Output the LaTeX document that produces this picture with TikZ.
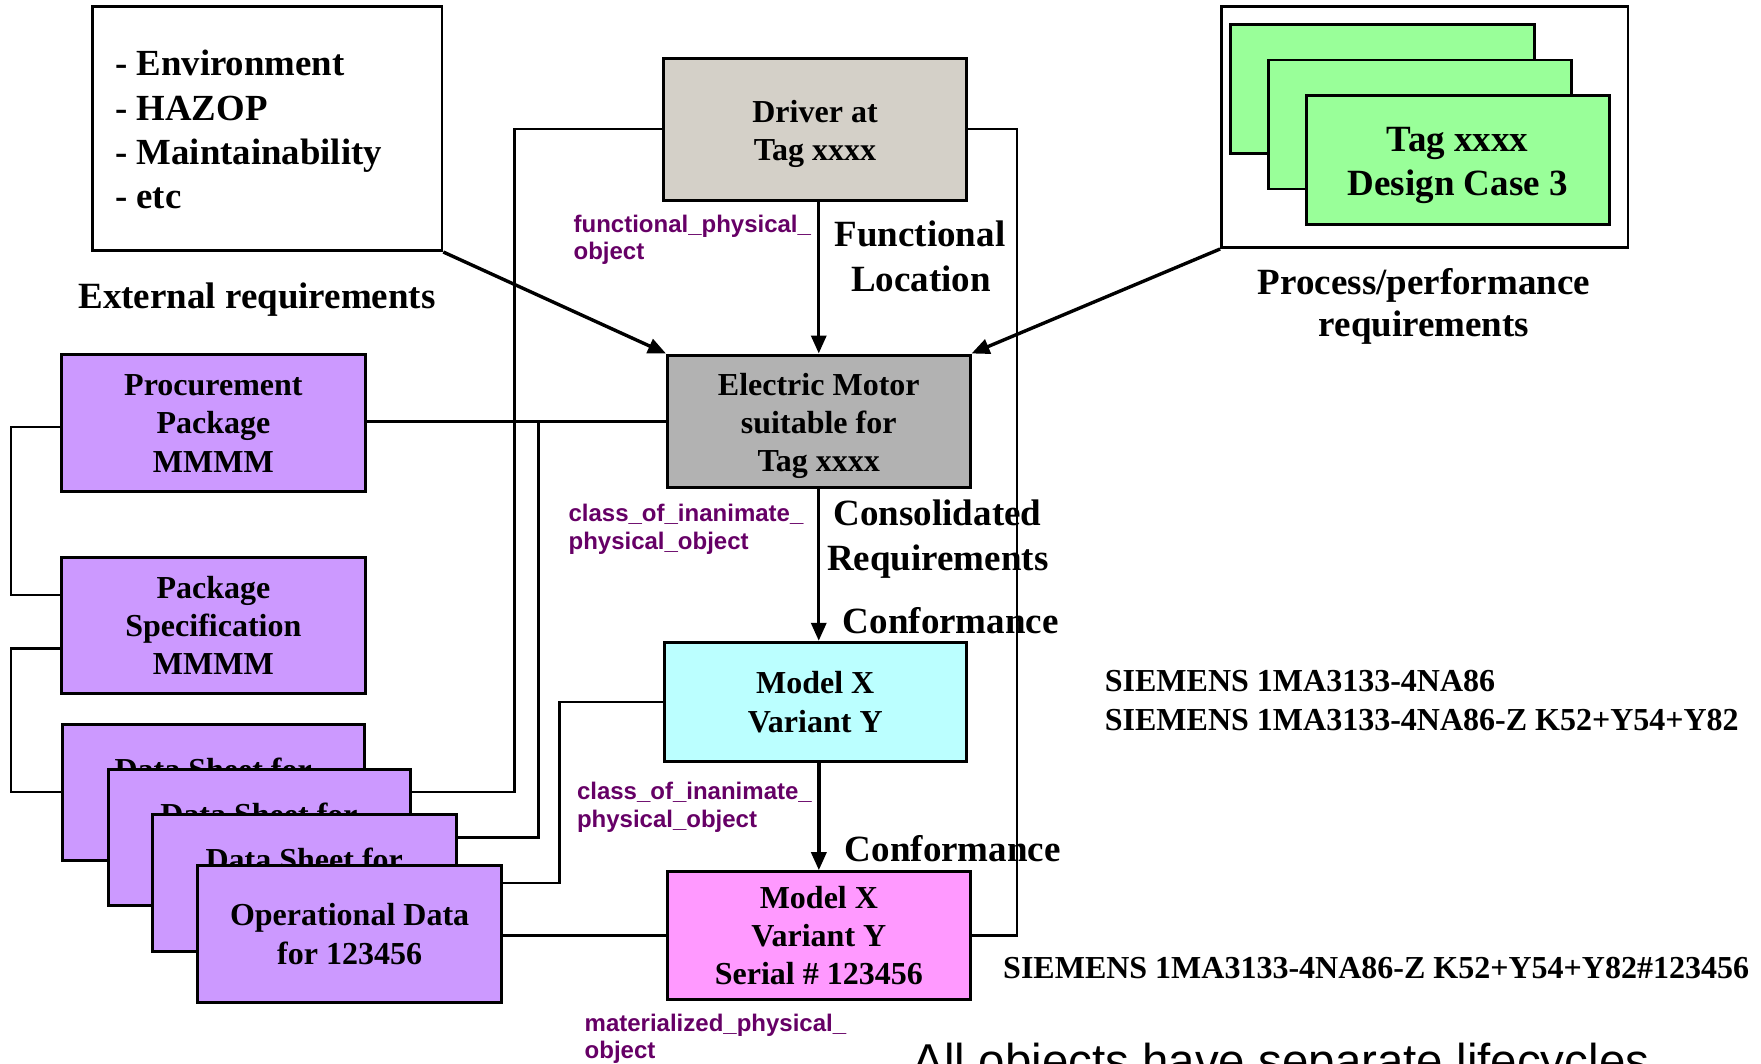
\documentclass[tikz,border=0pt]{standalone}
\usepackage{fontspec}
\setmainfont{Liberation Serif}
\newfontfamily\arialf{Liberation Sans}
\usetikzlibrary{arrows.meta,backgrounds,calc}
\definecolor{drvgrey}{HTML}{D4D0C8}
\definecolor{motgrey}{HTML}{B2B2B2}
\definecolor{lilac}{HTML}{CC99FF}
\definecolor{pcyan}{HTML}{BBFFFF}
\definecolor{ppink}{HTML}{FF99FF}
\definecolor{pgreen}{HTML}{99FF99}
\definecolor{lblpurple}{HTML}{660066}
\begin{document}
\begin{tikzpicture}[x=0.5pt,y=-0.5pt,
  bx/.style 2 args={draw, line width=1.5pt, inner sep=0pt, minimum width=#1*0.5pt, minimum height=#2*0.5pt, align=center, font=\fontsize{16}{19.15}\selectfont\bfseries},
  frame/.style={draw, fill=white, line width=1.3pt, inner sep=0pt},
  big/.style={inner sep=0pt, font=\fontsize{18.5}{22}\selectfont\bfseries},
  bul/.style={inner sep=0pt, anchor=base west, font=\fontsize{18.4}{22}\selectfont\bfseries},
  lbl/.style={inner sep=0pt, anchor=base west, text=lblpurple, font=\arialf\bfseries\fontsize{12}{13.5}\selectfont},
  sie/.style={inner sep=0pt, anchor=base west, font=\fontsize{16}{19}\selectfont\bfseries},
  dstext/.style={inner sep=0pt, anchor=base, font=\fontsize{16}{19}\selectfont\bfseries},
  conn/.style={line width=1.2pt},
  arr/.style={line width=1.7pt, -{Triangle[length=9pt,width=7.5pt]}}
]
\useasboundingbox (0,0) rectangle (1761,1064);
\clip (0,0) rectangle (1761,1064);

% external requirements
\node[frame, minimum width=349.4*0.5pt, minimum height=244*0.5pt] (ext) at (267.3,128.7) {};
\node[bul] (e1) at (114.8,76) {- Environment};
\node[bul] (e2) at (114.8,120.7) {- HAZOP};
\node[bul] (e3) at (114.8,165) {- Maintainability};
\node[bul] (e4) at (114.8,209) {- etc};
\node[big, anchor=base] (extlbl) at (257,308) {External requirements};

% driver
\node[bx={303.6}{141.7}, fill=drvgrey] (drv) at (815,129.2) {\rule{0pt}{15.5pt}Driver at\\Tag xxxx};
\node[lbl] (fpo1) at (573.2,233) {functional\_physical\_};
\node[lbl] (fpo2) at (573.2,260) {object};
\node[big, anchor=base] (fl1) at (920,246.7) {Functional};
\node[big, anchor=base] (fl2) at (921,291.7) {Location};

% process / performance
\node[frame, minimum width=406.6*0.5pt, minimum height=241*0.5pt] (pout) at (1424.7,127.2) {};
\node[bx={303.9}{129}, fill=pgreen, line width=1.4pt] (g1) at (1382.5,88.8) {};
\node[bx={302.9}{129}, fill=pgreen, line width=1.4pt] (g2) at (1420,124.5) {};
\node[bx={303}{128.6}, fill=pgreen, line width=1.4pt, font=\fontsize{18.5}{22}\selectfont\bfseries] (g3) at (1457.7,160) {\rule{0pt}{17.8pt}Tag xxxx\\Design Case 3};
\node[big, anchor=base] (pp1) at (1424,294.3) {Process/performance};
\node[big, anchor=base] (pp2) at (1424,336.7) {requirements};

% motor
\node[bx={302.5}{132.7}, fill=motgrey] (motor) at (818.75,421.35) {\rule{0pt}{15.5pt}Electric Motor\\suitable for\\Tag xxxx};
\node[lbl] (ci1a) at (568.2,521.7) {class\_of\_inanimate\_};
\node[lbl] (ci1b) at (568.2,549.3) {physical\_object};
\node[big, anchor=base] (cr1) at (937.5,525) {Consolidated};
\node[big, anchor=base] (cr2) at (937.8,570) {Requirements};
\node[big, anchor=base west] (cf1) at (842.5,633.3) {Conformance};

% model
\node[bx={302.4}{119.4}, fill=pcyan] (model) at (815.2,702) {Model X\\Variant Y};
\node[lbl] (ci2a) at (576.6,799) {class\_of\_inanimate\_};
\node[lbl] (ci2b) at (576.6,827.7) {physical\_object};
\node[big, anchor=base west] (cf2) at (844.5,861.7) {Conformance};

% serial
\node[bx={303.1}{127.3}, fill=ppink] (ser) at (818.85,935.35) {Model X\\Variant Y\\Serial \# 123456};
\node[lbl] (mp1) at (584.3,1031.7) {materialized\_physical\_};
\node[lbl] (mp2) at (584.3,1058.3) {object};

% siemens
\node[sie] (s1) at (1104.5,691.7) {SIEMENS 1MA3133-4NA86};
\node[sie] (s2) at (1104.5,730) {SIEMENS 1MA3133-4NA86-Z K52+Y54+Y82};
\node[sie] (s3) at (1002.8,978.3) {SIEMENS 1MA3133-4NA86-Z K52+Y54+Y82\#123456};
\node[inner sep=0pt, anchor=base west, font=\arialf\fontsize{23.75}{28}\selectfont] (allobj) at (912.3,1077.3) {All objects have separate lifecycles};

% left packages
\node[bx={304}{136.7}, fill=lilac] (proc) at (213.4,423.3) {Procurement\\Package\\MMMM};
\node[bx={304}{135.6}, fill=lilac] (spec) at (213.4,625.5) {Package\\Specification\\MMMM};
\node[bx={302.3}{136}, fill=lilac] (ds1) at (213.2,792) {};
\node[dstext] (ds1t) at ($(ds1.north)+(0,57.7)$) {Data Sheet for};
\node[bx={302}{136.7}, fill=lilac] (ds2) at (259,837.4) {};
\node[dstext] (ds2t) at ($(ds2.north)+(0,57.7)$) {Data Sheet for};
\node[bx={303.9}{136.7}, fill=lilac] (ds3) at (304.25,882.7) {};
\node[dstext] (ds3t) at ($(ds3.north)+(0,57.7)$) {Data Sheet for};
\node[bx={303.4}{136.6}, fill=lilac] (op) at (349.6,934) {Operational Data\\for 123456};

% connectors behind the boxes
\coordinate (jL) at (514.3,500);
\coordinate (jM) at (538.6,421.35);
\coordinate (jD) at (559.5,800);
\coordinate (jR) at (1017,500);
\begin{scope}[on background layer]
  \draw[conn] (drv.west) -| (jL) |- (ds1.east);
  \draw[conn] (motor.west) -- (motor.west -| proc.east);
  \draw[conn] (jM) |- (ds2.east);
  \draw[conn] (model.west) -| (jD) |- (ds3.east);
  \draw[conn] (ser.west) -- (ser.west -| op.east);
  \draw[conn] (drv.east) -| (jR) |- (ser.east);
  \draw[conn] ($(proc.west)+(0,3.5)$) -- ++(-49,0) |- ($(spec.west)+(0,-30.5)$);
  \draw[conn] ($(spec.west)+(0,23)$) -- ++(-49,0) |- (ds1.west);
\end{scope}

% arrows
\draw[arr] (motor.north |- drv.south) -- (motor.north);
\draw[arr] (ext.south east) -- (motor.north west);
\draw[arr] (pout.south west) -- (motor.north east);
\draw[arr] (motor.south) -- (motor.south |- model.north);
\draw[arr] (ser.north |- model.south) -- (ser.north);
\end{tikzpicture}
\end{document}
